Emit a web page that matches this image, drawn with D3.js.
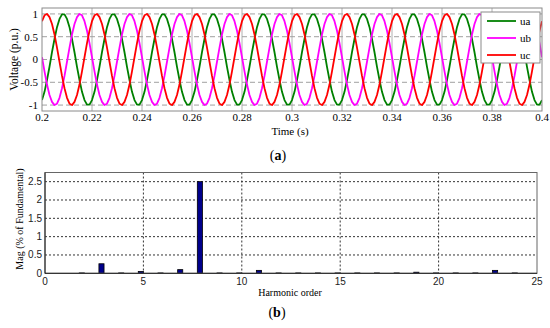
<!DOCTYPE html>
<html>
<head>
<meta charset="utf-8">
<script src="https://cdn.jsdelivr.net/npm/d3@7"></script>
<style>
  body { margin: 0; background: #fff; }
  svg { display: block; }
</style>
</head>
<body>
<svg width="550" height="328"></svg>
<script>
// ---- panel (a): three phase voltages, sampled every 1 ms from 0.2 s to 0.4 s ----
var timeStart = 0.2, timeStep = 0.001;
var xTicksA = [0.2, 0.22, 0.24, 0.26, 0.28, 0.3, 0.32, 0.34, 0.36, 0.38, 0.4];
var yTicksA = [-1, -0.5, 0, 0.5, 1];
var seriesNames = ["ua", "ub", "uc"];
var seriesColors = ["#008000", "#ff00ff", "#ff0000"];

var ua = [
  -0.89,-0.71,-0.45,-0.16,0.16,0.45,0.71,0.89,0.99,0.99,0.89,0.71,0.45,0.16,-0.16,-0.45,-0.71,-0.89,-0.99,-0.99,
  -0.89,-0.71,-0.45,-0.16,0.16,0.45,0.71,0.89,0.99,0.99,0.89,0.71,0.45,0.16,-0.16,-0.45,-0.71,-0.89,-0.99,-0.99,
  -0.89,-0.71,-0.45,-0.16,0.16,0.45,0.71,0.89,0.99,0.99,0.89,0.71,0.45,0.16,-0.16,-0.45,-0.71,-0.89,-0.99,-0.99,
  -0.89,-0.71,-0.45,-0.16,0.16,0.45,0.71,0.89,0.99,0.99,0.89,0.71,0.45,0.16,-0.16,-0.45,-0.71,-0.89,-0.99,-0.99,
  -0.89,-0.71,-0.45,-0.16,0.16,0.45,0.71,0.89,0.99,0.99,0.89,0.71,0.45,0.16,-0.16,-0.45,-0.71,-0.89,-0.99,-0.99,
  -0.89,-0.71,-0.45,-0.16,0.16,0.45,0.71,0.89,0.99,0.99,0.89,0.71,0.45,0.16,-0.16,-0.45,-0.71,-0.89,-0.99,-0.99,
  -0.89,-0.71,-0.45,-0.16,0.16,0.45,0.71,0.89,0.99,0.99,0.89,0.71,0.45,0.16,-0.16,-0.45,-0.71,-0.89,-0.99,-0.99,
  -0.89,-0.71,-0.45,-0.16,0.16,0.45,0.71,0.89,0.99,0.99,0.89,0.71,0.45,0.16,-0.16,-0.45,-0.71,-0.89,-0.99,-0.99,
  -0.89,-0.71,-0.45,-0.16,0.16,0.45,0.71,0.89,0.99,0.99,0.89,0.71,0.45,0.16,-0.16,-0.45,-0.71,-0.89,-0.99,-0.99,
  -0.89,-0.71,-0.45,-0.16,0.16,0.45,0.71,0.89,0.99,0.99,0.89,0.71,0.45,0.16,-0.16,-0.45,-0.71,-0.89,-0.99,-0.99,
  -0.89
];
var ub = [
  0.05,-0.26,-0.55,-0.78,-0.93,-1,-0.97,-0.84,-0.63,-0.36,-0.05,0.26,0.55,0.78,0.93,1,0.97,0.84,0.63,0.36,
  0.05,-0.26,-0.55,-0.78,-0.93,-1,-0.97,-0.84,-0.63,-0.36,-0.05,0.26,0.55,0.78,0.93,1,0.97,0.84,0.63,0.36,
  0.05,-0.26,-0.55,-0.78,-0.93,-1,-0.97,-0.84,-0.63,-0.36,-0.05,0.26,0.55,0.78,0.93,1,0.97,0.84,0.63,0.36,
  0.05,-0.26,-0.55,-0.78,-0.93,-1,-0.97,-0.84,-0.63,-0.36,-0.05,0.26,0.55,0.78,0.93,1,0.97,0.84,0.63,0.36,
  0.05,-0.26,-0.55,-0.78,-0.93,-1,-0.97,-0.84,-0.63,-0.36,-0.05,0.26,0.55,0.78,0.93,1,0.97,0.84,0.63,0.36,
  0.05,-0.26,-0.55,-0.78,-0.93,-1,-0.97,-0.84,-0.63,-0.36,-0.05,0.26,0.55,0.78,0.93,1,0.97,0.84,0.63,0.36,
  0.05,-0.26,-0.55,-0.78,-0.93,-1,-0.97,-0.84,-0.63,-0.36,-0.05,0.26,0.55,0.78,0.93,1,0.97,0.84,0.63,0.36,
  0.05,-0.26,-0.55,-0.78,-0.93,-1,-0.97,-0.84,-0.63,-0.36,-0.05,0.26,0.55,0.78,0.93,1,0.97,0.84,0.63,0.36,
  0.05,-0.26,-0.55,-0.78,-0.93,-1,-0.97,-0.84,-0.63,-0.36,-0.05,0.26,0.55,0.78,0.93,1,0.97,0.84,0.63,0.36,
  0.05,-0.26,-0.55,-0.78,-0.93,-1,-0.97,-0.84,-0.63,-0.36,-0.05,0.26,0.55,0.78,0.93,1,0.97,0.84,0.63,0.36,
  0.05
];
var uc = [
  0.84,0.97,1,0.93,0.78,0.55,0.26,-0.05,-0.36,-0.63,-0.84,-0.97,-1,-0.93,-0.78,-0.55,-0.26,0.05,0.36,0.63,
  0.84,0.97,1,0.93,0.78,0.55,0.26,-0.05,-0.36,-0.63,-0.84,-0.97,-1,-0.93,-0.78,-0.55,-0.26,0.05,0.36,0.63,
  0.84,0.97,1,0.93,0.78,0.55,0.26,-0.05,-0.36,-0.63,-0.84,-0.97,-1,-0.93,-0.78,-0.55,-0.26,0.05,0.36,0.63,
  0.84,0.97,1,0.93,0.78,0.55,0.26,-0.05,-0.36,-0.63,-0.84,-0.97,-1,-0.93,-0.78,-0.55,-0.26,0.05,0.36,0.63,
  0.84,0.97,1,0.93,0.78,0.55,0.26,-0.05,-0.36,-0.63,-0.84,-0.97,-1,-0.93,-0.78,-0.55,-0.26,0.05,0.36,0.63,
  0.84,0.97,1,0.93,0.78,0.55,0.26,-0.05,-0.36,-0.63,-0.84,-0.97,-1,-0.93,-0.78,-0.55,-0.26,0.05,0.36,0.63,
  0.84,0.97,1,0.93,0.78,0.55,0.26,-0.05,-0.36,-0.63,-0.84,-0.97,-1,-0.93,-0.78,-0.55,-0.26,0.05,0.36,0.63,
  0.84,0.97,1,0.93,0.78,0.55,0.26,-0.05,-0.36,-0.63,-0.84,-0.97,-1,-0.93,-0.78,-0.55,-0.26,0.05,0.36,0.63,
  0.84,0.97,1,0.93,0.78,0.55,0.26,-0.05,-0.36,-0.63,-0.84,-0.97,-1,-0.93,-0.78,-0.55,-0.26,0.05,0.36,0.63,
  0.84,0.97,1,0.93,0.78,0.55,0.26,-0.05,-0.36,-0.63,-0.84,-0.97,-1,-0.93,-0.78,-0.55,-0.26,0.05,0.36,0.63,
  0.84
];

// ---- panel (b): harmonic spectrum ----
var harmonicOrder = [0, 2, 3, 4, 5, 6, 7, 8, 9, 10, 11, 12, 13, 14, 15, 16, 17, 18, 19, 20, 21, 22, 23, 24];
var magPct = [0.01, 0.01, 0.26, 0.01, 0.05, 0.01, 0.1, 2.5, 0.01, 0.01, 0.08, 0.01, 0.01, 0.01, 0.01, 0.01, 0.01, 0.01, 0.03, 0.01, 0.01, 0.01, 0.08, 0.01];
var xTicksB = [0, 5, 10, 15, 20, 25];
var yTicksB = [0, 0.5, 1, 1.5, 2, 2.5];

var serif = "'Liberation Serif', 'Times New Roman', serif";
var sans = "'Liberation Sans', Arial, sans-serif";

var svg = d3.select("svg");
svg.append("rect").attr("width", 550).attr("height", 328).attr("fill", "#fff");

// ================= panel (a) =================
var boxA = {left: 42, right: 542, top: 8, bottom: 111};
var xA = d3.scaleLinear().domain([0.2, 0.4]).range([boxA.left, boxA.right]);
var yA = d3.scaleLinear().domain([-1.13, 1.13]).range([boxA.bottom, boxA.top]);

var gA = svg.append("g");

// grid
gA.selectAll(".vgrid").data(xTicksA.slice(1, -1)).enter().append("line")
  .attr("x1", d => xA(d)).attr("x2", d => xA(d))
  .attr("y1", boxA.top).attr("y2", boxA.bottom)
  .attr("stroke", "#b0b0b0").attr("stroke-width", 1);
gA.selectAll(".hgrid").data(yTicksA).enter().append("line")
  .attr("x1", boxA.left).attr("x2", boxA.right)
  .attr("y1", d => yA(d)).attr("y2", d => yA(d))
  .attr("stroke", "#a0a0a0").attr("stroke-width", 1)
  .attr("stroke-dasharray", "5,3");

gA.append("clipPath").attr("id", "clipA").append("rect")
  .attr("x", boxA.left).attr("y", boxA.top)
  .attr("width", boxA.right - boxA.left).attr("height", boxA.bottom - boxA.top);

var line = d3.line()
  .x((d, i) => xA(timeStart + i * timeStep))
  .y(d => yA(d));

[ua, ub, uc].forEach(function(s, k) {
  gA.append("path")
    .attr("clip-path", "url(#clipA)")
    .attr("d", line(s))
    .attr("fill", "none")
    .attr("stroke", seriesColors[k])
    .attr("stroke-width", 1.8)
    .attr("stroke-linejoin", "round");
});

// frame
gA.append("rect")
  .attr("x", boxA.left).attr("y", boxA.top)
  .attr("width", boxA.right - boxA.left).attr("height", boxA.bottom - boxA.top)
  .attr("fill", "none").attr("stroke", "#8a8a8a").attr("stroke-width", 1);

// tick labels
gA.selectAll(".xt").data(xTicksA).enter().append("text")
  .attr("x", d => xA(d)).attr("y", 121)
  .attr("text-anchor", "middle")
  .attr("font-family", serif).attr("font-size", 11)
  .text(d => d3.format("")(+d.toFixed(2)));
gA.selectAll(".yt").data(yTicksA).enter().append("text")
  .attr("x", 38).attr("y", d => yA(d)).attr("dy", "0.35em")
  .attr("text-anchor", "end")
  .attr("font-family", serif).attr("font-size", 11)
  .text(d => d);

gA.append("text")
  .attr("transform", "translate(14," + ((boxA.top + boxA.bottom) / 2) + ") rotate(-90)")
  .attr("text-anchor", "middle").attr("dy", "0.35em")
  .attr("font-family", serif).attr("font-size", 11.5)
  .text("Voltage (p.u.)");
gA.append("text")
  .attr("x", 290).attr("y", 135)
  .attr("text-anchor", "middle")
  .attr("font-family", serif).attr("font-size", 11)
  .text("Time (s)");

// legend
var leg = gA.append("g");
leg.append("rect")
  .attr("x", 481).attr("y", 12).attr("width", 59).attr("height", 51)
  .attr("fill", "#fff").attr("stroke", "#8a8a8a").attr("stroke-width", 1);
seriesNames.forEach(function(n, k) {
  var yy = 21 + k * 17;
  leg.append("line")
    .attr("x1", 487).attr("x2", 516).attr("y1", yy).attr("y2", yy)
    .attr("stroke", seriesColors[k]).attr("stroke-width", 1.8);
  leg.append("text")
    .attr("x", 520).attr("y", yy).attr("dy", "0.35em")
    .attr("font-family", serif).attr("font-size", 11)
    .text(n);
});

// caption (a)
var capA = svg.append("text")
  .attr("x", 278).attr("y", 160)
  .attr("text-anchor", "middle")
  .attr("font-family", serif).attr("font-size", 14);
capA.append("tspan").text("(");
capA.append("tspan").attr("font-weight", "bold").text("a");
capA.append("tspan").text(")");

// ================= panel (b) =================
var boxB = {left: 45, right: 537, top: 172.5, bottom: 273.3};
var xB = d3.scaleLinear().domain([0, 25]).range([boxB.left, boxB.right]);
var yB = d3.scaleLinear().domain([0, 2.75]).range([boxB.bottom, boxB.top]);

var gB = svg.append("g");

gB.selectAll(".vgridB").data(xTicksB.slice(1, -1)).enter().append("line")
  .attr("x1", d => xB(d)).attr("x2", d => xB(d))
  .attr("y1", boxB.top).attr("y2", boxB.bottom)
  .attr("stroke", "#333").attr("stroke-width", 1)
  .attr("stroke-dasharray", "2,2");
gB.selectAll(".hgridB").data(yTicksB.slice(1)).enter().append("line")
  .attr("x1", boxB.left).attr("x2", boxB.right)
  .attr("y1", d => yB(d)).attr("y2", d => yB(d))
  .attr("stroke", "#333").attr("stroke-width", 1)
  .attr("stroke-dasharray", "2,2");

gB.append("clipPath").attr("id", "clipB").append("rect")
  .attr("x", boxB.left).attr("y", boxB.top)
  .attr("width", boxB.right - boxB.left).attr("height", boxB.bottom - boxB.top);

var barHalf = 0.26;
gB.selectAll(".bar").data(harmonicOrder).enter().append("rect")
  .attr("clip-path", "url(#clipB)")
  .attr("x", d => xB(d - barHalf))
  .attr("width", xB(barHalf) - xB(0))
  .attr("y", (d, i) => yB(magPct[i]))
  .attr("height", (d, i) => yB(0) - yB(magPct[i]))
  .attr("fill", "#00008b")
  .attr("stroke", "#000").attr("stroke-width", 0.8);

gB.append("rect")
  .attr("x", boxB.left).attr("y", boxB.top)
  .attr("width", boxB.right - boxB.left).attr("height", boxB.bottom - boxB.top)
  .attr("fill", "none").attr("stroke", "#666").attr("stroke-width", 1);
gB.append("line")
  .attr("x1", boxB.left).attr("x2", boxB.left)
  .attr("y1", boxB.top).attr("y2", boxB.bottom)
  .attr("stroke", "#222").attr("stroke-width", 1);
gB.append("line")
  .attr("x1", boxB.left).attr("x2", boxB.right)
  .attr("y1", boxB.bottom).attr("y2", boxB.bottom)
  .attr("stroke", "#222").attr("stroke-width", 1);

gB.selectAll(".xtB").data(xTicksB).enter().append("text")
  .attr("x", d => xB(d)).attr("y", 285)
  .attr("text-anchor", "middle")
  .attr("font-family", sans).attr("font-size", 10).attr("fill", "#222")
  .text(d => d);
gB.selectAll(".ytB").data(yTicksB).enter().append("text")
  .attr("x", 42).attr("y", d => yB(d)).attr("dy", "0.35em")
  .attr("text-anchor", "end")
  .attr("font-family", sans).attr("font-size", 10).attr("fill", "#222")
  .text(d => d);

gB.append("text")
  .attr("transform", "translate(19,219) rotate(-90)")
  .attr("text-anchor", "middle").attr("dy", "0.35em")
  .attr("font-family", serif).attr("font-size", 10)
  .text("Mag (% of Fundamental)");
gB.append("text")
  .attr("x", 290).attr("y", 296)
  .attr("text-anchor", "middle")
  .attr("font-family", serif).attr("font-size", 10)
  .text("Harmonic order");

var capB = svg.append("text")
  .attr("x", 277).attr("y", 317)
  .attr("text-anchor", "middle")
  .attr("font-family", serif).attr("font-size", 14);
capB.append("tspan").text("(");
capB.append("tspan").attr("font-weight", "bold").text("b");
capB.append("tspan").text(")");
</script>
</body>
</html>
